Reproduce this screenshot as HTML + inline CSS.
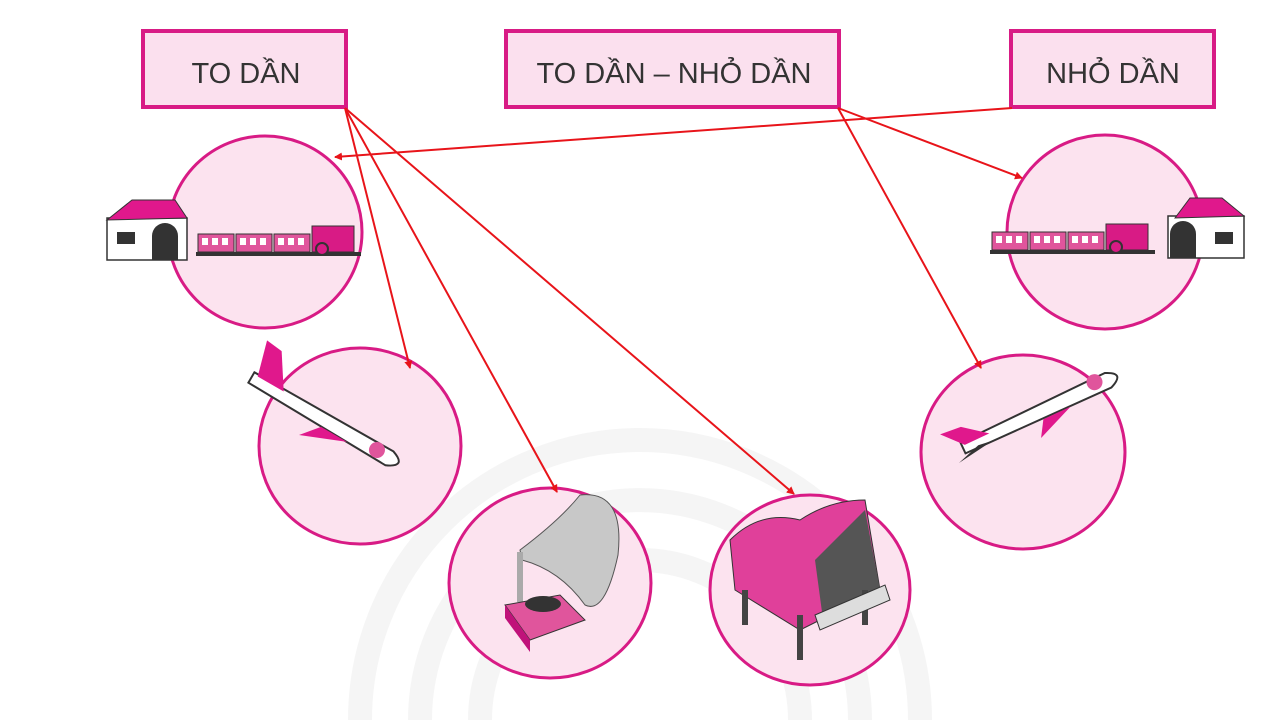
<!DOCTYPE html>
<html><head><meta charset="utf-8"><style>
html,body{margin:0;padding:0;background:#fff;width:1280px;height:720px;overflow:hidden}
svg{display:block}
text{font-family:"Liberation Sans",sans-serif}
</style></head><body>
<svg width="1280" height="720" viewBox="0 0 1280 720" xmlns="http://www.w3.org/2000/svg">
<defs>
<marker id="ar" markerWidth="8" markerHeight="8" refX="7" refY="4" orient="auto" markerUnits="userSpaceOnUse">
<path d="M0,0 L8,4 L0,8 z" fill="#e8141a"/></marker>
<g id="train">
<rect x="0" y="30" width="165" height="4" fill="#333"/>
<rect x="2" y="12" width="36" height="18" fill="#e0559c" stroke="#333"/>
<rect x="40" y="12" width="36" height="18" fill="#e0559c" stroke="#333"/>
<rect x="78" y="12" width="36" height="18" fill="#e0559c" stroke="#333"/>
<rect x="6" y="16" width="6" height="7" fill="#fff"/><rect x="16" y="16" width="6" height="7" fill="#fff"/><rect x="26" y="16" width="6" height="7" fill="#fff"/>
<rect x="44" y="16" width="6" height="7" fill="#fff"/><rect x="54" y="16" width="6" height="7" fill="#fff"/><rect x="64" y="16" width="6" height="7" fill="#fff"/>
<rect x="82" y="16" width="6" height="7" fill="#fff"/><rect x="92" y="16" width="6" height="7" fill="#fff"/><rect x="102" y="16" width="6" height="7" fill="#fff"/>
<rect x="116" y="4" width="42" height="26" fill="#d81b85" stroke="#333"/>
<circle cx="126" cy="27" r="6" fill="#d81b85" stroke="#333" stroke-width="2"/>
</g>
</defs>
<!-- watermark -->
<g fill="none" stroke="#f5f5f5" stroke-width="24">
<path d="M360,720 A280,280 0 0 1 920,720"/>
<path d="M420,720 A220,220 0 0 1 860,720"/>
<path d="M480,720 A160,160 0 0 1 800,720"/>
</g>
<!-- boxes -->
<g fill="#fbe0ee" stroke="#d81b85" stroke-width="4">
<rect x="143" y="31" width="203" height="76"/>
<rect x="506" y="31" width="333" height="76"/>
<rect x="1011" y="31" width="203" height="76"/>
</g>
<g font-size="29" fill="#333" text-anchor="middle">
<text x="246" y="83">TO DẦN</text>
<text x="674" y="83">TO DẦN – NHỎ DẦN</text>
<text x="1113" y="83">NHỎ DẦN</text>
</g>
<!-- circles -->
<g fill="#fce3ef" stroke="#d81b85" stroke-width="3">
<ellipse cx="265" cy="232" rx="97" ry="96"/>
<ellipse cx="360" cy="446" rx="101" ry="98"/>
<ellipse cx="550" cy="583" rx="101" ry="95"/>
<ellipse cx="810" cy="590" rx="100" ry="95"/>
<ellipse cx="1023" cy="452" rx="102" ry="97"/>
<ellipse cx="1105" cy="232" rx="98" ry="97"/>
</g>
<!-- left train -->
<g>
<rect x="107" y="218" width="80" height="42" fill="#fff" stroke="#333" stroke-width="1.5"/>
<polygon points="107,220 132,200 175,200 187,218" fill="#e0188c" stroke="#333"/>
<rect x="117" y="232" width="18" height="12" fill="#333"/>
<path d="M152,260 V236 a13,13 0 0 1 26,0 V260z" fill="#333"/>
</g>
<use href="#train" x="196" y="222"/>
<!-- right train -->
<use href="#train" x="990" y="220"/>
<g>
<rect x="1168" y="216" width="76" height="42" fill="#fff" stroke="#333" stroke-width="1.5"/>
<polygon points="1175,218 1190,198 1222,198 1244,216" fill="#e0188c" stroke="#333"/>
<rect x="1215" y="232" width="18" height="12" fill="#333"/>
<path d="M1170,258 V234 a13,13 0 0 1 26,0 V258z" fill="#333"/>
</g>
<!-- left plane -->
<g transform="translate(325,420) rotate(30)">
<path d="M-85,-6 L75,-7 Q95,0 75,9 L-85,6 z" fill="#fff" stroke="#333" stroke-width="2"/>
<polygon points="-80,-4 -90,-40 -72,-38 -50,-4" fill="#e0188c"/>
<polygon points="0,8 30,8 -15,26" fill="#e0188c"/>
<circle cx="60" cy="0" r="8" fill="#e0559c"/>
</g>
<!-- right plane -->
<g transform="translate(1040,412) rotate(-25)">
<path d="M-85,-6 L75,-8 Q95,0 75,8 L-85,6 z" fill="#fff" stroke="#333" stroke-width="2"/>
<polygon points="-82,-2 -100,-22 -78,-20 -55,-2" fill="#e0188c"/>
<polygon points="-70,4 -95,12 -55,6" fill="#333"/>
<polygon points="0,8 30,8 -10,24" fill="#e0188c"/>
<circle cx="62" cy="-4" r="8" fill="#e0559c"/>
</g>
<!-- gramophone -->
<g>
<path d="M520,550 Q560,520 580,495 Q625,490 618,555 Q605,615 585,605 Q560,570 522,560z" fill="#c8c8c8" stroke="#555"/>
<rect x="517" y="552" width="6" height="50" fill="#aaa"/>
<polygon points="505,605 560,595 585,620 530,640" fill="#e0559c" stroke="#333"/>
<polygon points="505,605 530,640 530,652 505,618" fill="#c0127a"/>
<ellipse cx="543" cy="604" rx="18" ry="8" fill="#333"/>
</g>
<!-- piano -->
<g>
<path d="M730,540 Q760,510 800,520 Q830,500 865,500 L880,590 L800,630 L735,590z" fill="#e0409a" stroke="#333"/>
<polygon points="815,560 865,510 880,590 822,612" fill="#555"/>
<rect x="742" y="590" width="6" height="35" fill="#444"/>
<rect x="797" y="615" width="6" height="45" fill="#444"/>
<rect x="862" y="590" width="6" height="35" fill="#444"/>
<polygon points="815,615 885,585 890,600 820,630" fill="#ddd" stroke="#333"/>
</g>
<!-- arrows -->
<g stroke="#e8141a" stroke-width="2" fill="none" marker-end="url(#ar)">
<line x1="1012" y1="108" x2="335" y2="157"/>
<line x1="345" y1="108" x2="410" y2="368"/>
<line x1="345" y1="108" x2="557" y2="492"/>
<line x1="345" y1="108" x2="794" y2="494"/>
<line x1="838" y1="108" x2="1022" y2="178"/>
<line x1="838" y1="108" x2="981" y2="368"/>
</g>
</svg>
</body></html>
